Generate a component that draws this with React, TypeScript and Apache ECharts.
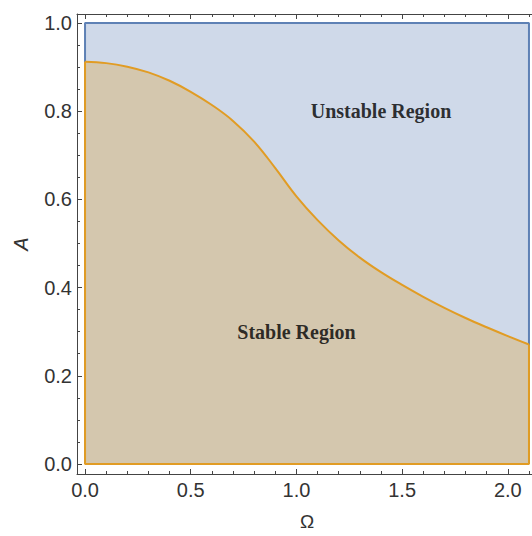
import React, { useEffect, useRef } from "react";
import * as echarts from "echarts";

// Boundary curve between the stable and unstable regions (Ω, A)
const omega = [0, 0.1, 0.2, 0.3, 0.4, 0.5, 0.6, 0.7, 0.8, 0.9, 1.0, 1.1, 1.2, 1.3, 1.4, 1.5, 1.6, 1.7, 1.8, 1.9, 2.0, 2.1];
const amplitude = [0.912, 0.909, 0.901, 0.888, 0.869, 0.844, 0.814, 0.778, 0.731, 0.671, 0.607, 0.553, 0.507, 0.468, 0.435, 0.406, 0.379, 0.354, 0.331, 0.31, 0.29, 0.271];

// Region extents
const omegaMin = 0;
const omegaMax = 2.1;
const ampMin = 0;
const ampMax = 1.0;

// Axis ticks
const xMajorTicks = [0, 0.5, 1.0, 1.5, 2.0];
const xMinorTicks = [0.1, 0.2, 0.3, 0.4, 0.6, 0.7, 0.8, 0.9, 1.1, 1.2, 1.3, 1.4, 1.6, 1.7, 1.8, 1.9, 2.1];
const yMajorTicks = [0, 0.2, 0.4, 0.6, 0.8, 1.0];
const yMinorTicks = [0.05, 0.1, 0.15, 0.25, 0.3, 0.35, 0.45, 0.5, 0.55, 0.65, 0.7, 0.75, 0.85, 0.9, 0.95];

// Region labels
const regionLabels = [
  { name: "Unstable Region", value: [1.4, 0.8] },
  { name: "Stable Region", value: [1.0, 0.3] },
];

const X_RANGE = [-0.038, 2.138];
const Y_RANGE = [-0.0227, 1.0204];

const FRAME = "#444";
const LABEL = "#333";
const BLUE = "#5E81B5";
const ORANGE = "#E19C24";

function majorAxis(kind: "x" | "y", position: string, showLabels: boolean, ticks: number[], name?: string): any {
  const range = kind === "x" ? X_RANGE : Y_RANGE;
  const ax: any = {
    type: "value",
    position,
    min: range[0],
    max: range[1],
    splitLine: { show: false },
    axisLine: { show: true, onZero: false, lineStyle: { color: FRAME, width: 1 } },
    axisTick: { show: true, inside: true, length: 5, customValues: ticks, lineStyle: { color: FRAME, width: 1 } },
    axisLabel: {
      show: showLabels,
      customValues: ticks,
      formatter: (v: number) => v.toFixed(1),
      color: LABEL,
      fontSize: 20,
      fontFamily: "Liberation Sans, Arial, sans-serif",
      margin: kind === "x" ? 6 : 5,
    },
  };
  if (name) {
    ax.name = name;
    ax.nameLocation = "middle";
    if (kind === "x") {
      ax.nameGap = 38;
      ax.nameTextStyle = { color: LABEL, fontSize: 19, fontFamily: "Liberation Sans, Arial, sans-serif" };
    } else {
      ax.nameGap = 46;
      ax.nameRotate = 90;
      ax.nameTextStyle = { color: LABEL, fontSize: 20, fontStyle: "italic", fontFamily: "Liberation Sans, Arial, sans-serif" };
    }
  }
  return ax;
}

function minorAxis(kind: "x" | "y", position: string, ticks: number[]): any {
  const range = kind === "x" ? X_RANGE : Y_RANGE;
  return {
    type: "value",
    position,
    min: range[0],
    max: range[1],
    splitLine: { show: false },
    axisLine: { show: false, onZero: false },
    axisTick: { show: true, inside: true, length: 3, customValues: ticks, lineStyle: { color: FRAME, width: 1 } },
    axisLabel: { show: false },
  };
}

export default function App() {
  const ref = useRef<HTMLDivElement>(null);

  useEffect(() => {
    if (!ref.current) return;
    const chart = echarts.init(ref.current, undefined, { renderer: "svg" });
    const curve = omega.map((x, i) => [x, amplitude[i]]);
    const first = amplitude[0];
    const last = amplitude[amplitude.length - 1];

    chart.setOption({
      animation: false,
      backgroundColor: "#fff",
      grid: { left: 77, right: -5, top: 14, bottom: 62, containLabel: false, outerBoundsMode: "none" },
      xAxis: [
        majorAxis("x", "bottom", true, xMajorTicks, "Ω"),
        minorAxis("x", "bottom", xMinorTicks),
        majorAxis("x", "top", false, xMajorTicks),
        minorAxis("x", "top", xMinorTicks),
      ],
      yAxis: [
        majorAxis("y", "left", true, yMajorTicks, "A"),
        minorAxis("y", "left", yMinorTicks),
        majorAxis("y", "right", false, yMajorTicks),
        minorAxis("y", "right", yMinorTicks),
      ],
      series: [
        {
          type: "line",
          name: "unstable",
          data: [
            [omegaMin, ampMin],
            [omegaMin, ampMax],
            [omegaMax, ampMax],
            [omegaMax, ampMin],
          ],
          symbol: "none",
          lineStyle: { color: BLUE, width: 2 },
          areaStyle: { color: "#CFD9E9", opacity: 1, origin: ampMin },
          z: 2,
        },
        {
          type: "line",
          name: "stable",
          data: curve,
          symbol: "none",
          smooth: 0.4,
          lineStyle: { color: ORANGE, width: 2 },
          areaStyle: { color: "#D4C7AE", opacity: 1, origin: ampMin },
          z: 3,
        },
        {
          type: "line",
          name: "stableEdge",
          data: [
            [omegaMin, first],
            [omegaMin, ampMin],
            [omegaMax, ampMin],
            [omegaMax, last],
          ],
          symbol: "none",
          lineStyle: { color: ORANGE, width: 2 },
          z: 4,
        },
        {
          type: "scatter",
          name: "labels",
          data: regionLabels,
          symbolSize: 0.1,
          itemStyle: { color: "transparent" },
          label: {
            show: true,
            position: "inside",
            formatter: (p: any) => p.name,
            color: "#000",
            fontSize: 20,
            fontWeight: "bold",
            fontFamily: "Liberation Serif, Times New Roman, serif",
          },
          z: 5,
        },
      ],
    });
    return () => chart.dispose();
  }, []);

  return (
    <div
      ref={ref}
      style={{ position: "fixed", left: 0, top: 0, width: 532, height: 536, background: "#fff" }}
    />
  );
}
